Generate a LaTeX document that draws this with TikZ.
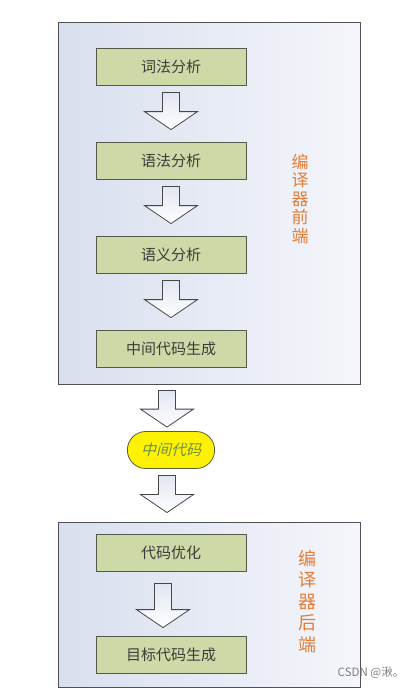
\documentclass[tikz,border=0pt]{standalone}
\usepackage{fontspec}
\setmainfont{Noto Sans CJK SC}
\newfontfamily\slantcjk{Noto Sans CJK SC}[FakeSlant=0.25]
\usetikzlibrary{calc,shapes.misc}

\definecolor{partleft}{RGB}{216,223,238}
\definecolor{partright}{RGB}{245,246,251}
\definecolor{partline}{RGB}{80,80,85}
\definecolor{stagegreen}{RGB}{205,217,166}
\definecolor{boxline}{RGB}{85,88,75}
\definecolor{stagetext}{RGB}{60,60,60}
\definecolor{arrowline}{RGB}{70,70,75}
\definecolor{arrowfill}{RGB}{226,230,242}
\definecolor{irline}{RGB}{95,95,60}
\definecolor{irtext}{RGB}{105,145,75}
\definecolor{sideorange}{RGB}{228,125,55}

% hollow block arrow from one node down to the next
\newcommand{\fatarrow}[5][0pt]{%
  \draw[fat arrow] let \p1=(#2.south), \p2=(#3.north),
    \p3=({\x1+(#1)},{\y1-#4pt}), \p4=({\x1+(#1)},{\y2+#5pt}) in
    (\x3-8.5pt,\y3) -- (\x3+8.5pt,\y3) -- (\x3+8.5pt,\y4+18pt) -- (\x3+26.5pt,\y4+18pt)
    -- (\x4,\y4) -- (\x3-26.5pt,\y4+18pt) -- (\x3-8.5pt,\y4+18pt) -- cycle;}

\begin{document}
\begin{tikzpicture}[x=1pt,y=1pt,node distance=94pt,
	stage/.style={rectangle,draw=boxline,fill=stagegreen,line width=0.8pt,minimum width=150pt,
		minimum height=37pt,text=stagetext,font=\fontsize{15}{15}\selectfont},
	part/.style={rectangle,draw=partline,line width=0.9pt,left color=partleft,right color=partright,
		minimum width=302pt},
	ir/.style={rounded rectangle,draw=irline,fill=yellow,line width=0.8pt,minimum width=94pt,
		minimum height=37pt,text=irtext,font=\slantcjk\fontsize{15}{15}\selectfont},
	side/.style={align=center,text=sideorange,inner sep=0pt},
	fat arrow/.style={draw=arrowline,line width=0.8pt,top color=arrowfill,bottom color=white}]
	\useasboundingbox (0,0) rectangle (414,-688);
	
	% front end
	\node[part,minimum height=362pt] (front) at (209,-203) {};
	\node[stage] (a) at (171,-66.5) {词法分析};
	\node[stage] (b) [below of=a] {语法分析};
	\node[stage] (c) [below of=b] {语义分析};
	\node[stage] (d) [below of=c] {中间代码生成};
	\node[side,font=\fontsize{17}{18.5}\selectfont] (fe) at (300,-199) {编\\译\\器\\前\\端};
	
	\node[ir] (ir) at (171,-450) {中间代码};
	
	% back end
	\node[part,minimum height=165pt] (back) at (209,-604.5) {};
	\node[stage] (e) at (171,-552.5) {代码优化};
	\node[stage] (f) [below of=e,node distance=102pt] {目标代码生成};
	\node[side,font=\fontsize{18}{21.5}\selectfont] (be) at (307,-601.5) {编\\译\\器\\后\\端};
	
	\node[text=gray,font=\fontsize{11.5}{12}\selectfont] (wm) at (371,-673) {CSDN @湫。};
	
	\fatarrow{a}{b}{7}{12}
	\fatarrow{b}{c}{7}{12}
	\fatarrow{c}{d}{7}{12}
	\fatarrow[-42pt]{front}{ir}{6}{4}
	\fatarrow[-4pt]{ir}{back}{6.5}{9}
	\fatarrow[-8pt]{e}{f}{12}{8}
\end{tikzpicture}
\end{document}
